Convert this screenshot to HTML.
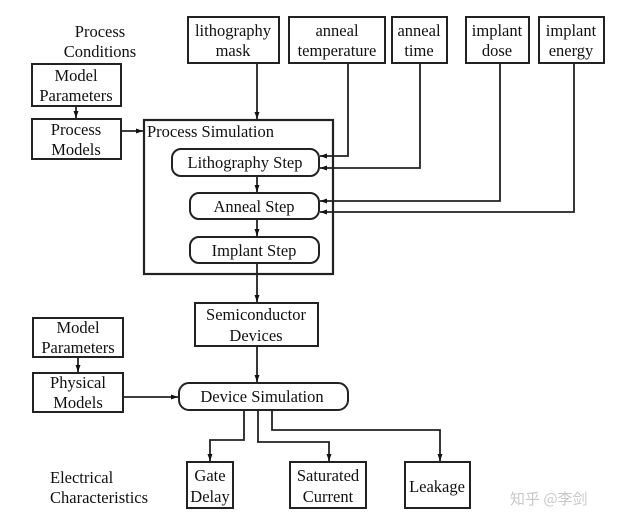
<!DOCTYPE html>
<html><head><meta charset="utf-8"><style>
html,body{margin:0;padding:0;background:#fff;}
svg{display:block;}
svg text{font-family:"Liberation Serif","DejaVu Serif","Times New Roman",serif !important;font-size:16.5px;fill:#111;}
</style></head><body>
<svg width="617" height="530" viewBox="0 0 617 530" xmlns="http://www.w3.org/2000/svg" font-family="Liberation Serif, DejaVu Serif, serif">
<defs>
<marker id="a" markerWidth="8" markerHeight="8" refX="7" refY="4" orient="auto" markerUnits="userSpaceOnUse">
<path d="M0,1.5 L7,4 L0,6.5 Z" fill="#111"/></marker>
</defs>
<g fill="none" stroke="#222" stroke-width="2">
<rect x="188" y="17" width="91" height="46"/>
<rect x="289" y="17" width="96" height="46"/>
<rect x="392" y="17" width="55" height="46"/>
<rect x="466" y="17" width="63" height="46"/>
<rect x="539" y="17" width="65" height="46"/>
<rect x="32" y="64" width="89" height="42"/>
<rect x="32" y="119" width="89" height="40"/>
<rect x="144" y="120" width="189" height="154" stroke-width="2.2"/>
<rect x="172" y="149" width="147" height="27" rx="9"/>
<rect x="190" y="193" width="129" height="26" rx="9"/>
<rect x="190" y="237" width="129" height="26" rx="9"/>
<rect x="195" y="303" width="123" height="43"/>
<rect x="33" y="318" width="90" height="39"/>
<rect x="33" y="373" width="90" height="39"/>
<rect x="179" y="383" width="169" height="27" rx="10"/>
<rect x="187" y="462" width="46" height="46"/>
<rect x="290" y="462" width="76" height="46"/>
<rect x="405" y="462" width="65" height="46"/>
</g>
<g fill="none" stroke="#222" stroke-width="1.8">
<path d="M257,63 V119" marker-end="url(#a)"/>
<path d="M348,63 V156 H320" marker-end="url(#a)"/>
<path d="M420,63 V168 H320" marker-end="url(#a)"/>
<path d="M500,63 V201 H320" marker-end="url(#a)"/>
<path d="M574,63 V212 H320" marker-end="url(#a)"/>
<path d="M257,176 V192" marker-end="url(#a)"/>
<path d="M257,219 V236" marker-end="url(#a)"/>
<path d="M257,263 V302" marker-end="url(#a)"/>
<path d="M257,346 V382" marker-end="url(#a)"/>
<path d="M76,106 V118" marker-end="url(#a)"/>
<path d="M121,131 H143" marker-end="url(#a)"/>
<path d="M78,357 V372" marker-end="url(#a)"/>
<path d="M123,397 H178" marker-end="url(#a)"/>
<path d="M244,410 V440 H210 V461" marker-end="url(#a)"/>
<path d="M258,410 V442 H329 V461" marker-end="url(#a)"/>
<path d="M272,410 V430 H440 V461" marker-end="url(#a)"/>
</g>
<g text-anchor="middle">
<text x="100" y="37">Process</text>
<text x="100" y="57">Conditions</text>
<text x="233" y="36">lithography</text><text x="233" y="56">mask</text>
<text x="337" y="36">anneal</text><text x="337" y="56">temperature</text>
<text x="419" y="36">anneal</text><text x="419" y="56">time</text>
<text x="497" y="36">implant</text><text x="497" y="56">dose</text>
<text x="571" y="36">implant</text><text x="571" y="56">energy</text>
<text x="76" y="81">Model</text><text x="76" y="101">Parameters</text>
<text x="76" y="135">Process</text><text x="76" y="155">Models</text>
<text x="245" y="168">Lithography Step</text>
<text x="254" y="212">Anneal Step</text>
<text x="254" y="256">Implant Step</text>
<text x="256" y="320">Semiconductor</text><text x="256" y="341">Devices</text>
<text x="78" y="333">Model</text><text x="78" y="353">Parameters</text>
<text x="78" y="388">Physical</text><text x="78" y="408">Models</text>
<text x="262" y="402">Device Simulation</text>
<text x="210" y="481">Gate</text><text x="210" y="502">Delay</text>
<text x="328" y="481">Saturated</text><text x="328" y="502">Current</text>
<text x="437" y="492">Leakage</text>
</g>
<text x="147" y="137">Process Simulation</text>
<text x="50" y="483">Electrical</text>
<text x="50" y="503">Characteristics</text>
<text x="510" y="504" style="font-family:'Noto Sans CJK SC',sans-serif !important;font-size:15px;fill:#c8c8c8">知乎 @李剑</text>
</svg>
</body></html>
